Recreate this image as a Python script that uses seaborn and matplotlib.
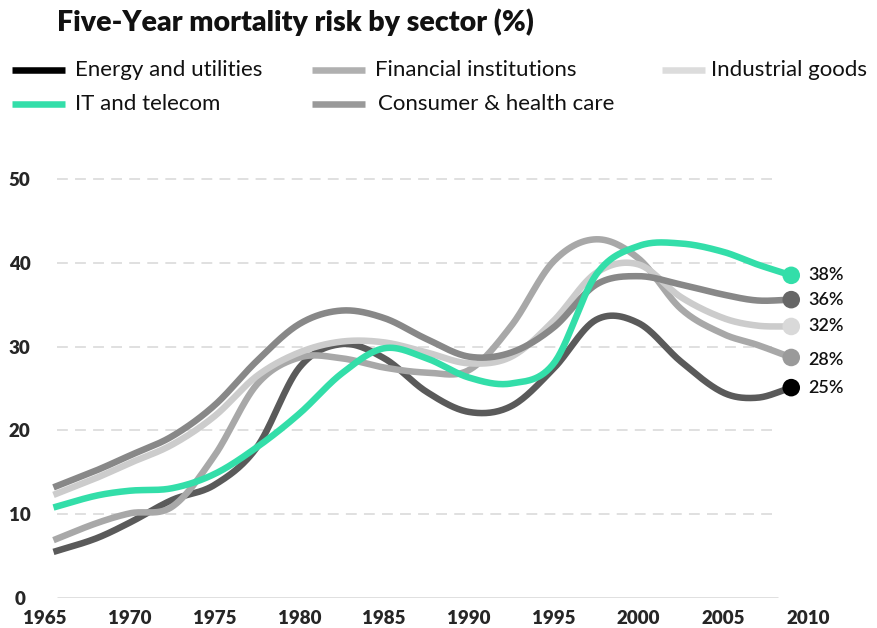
import numpy as np
import pandas as pd
import seaborn as sns
import matplotlib.pyplot as plt
from matplotlib.lines import Line2D

# values (%)
years = [1965.5, 1968, 1970, 1972.5, 1975, 1977.5, 1980, 1982.5, 1985, 1987.5,
         1990, 1992.5, 1995, 1997.5, 2000, 2002.5, 2005, 2007, 2009]
energy = [5.5, 7.1, 9.0, 11.7, 13.5, 18.0, 27.5, 30.3, 28.6, 24.6,
          22.2, 22.9, 27.4, 33.2, 32.8, 28.2, 24.5, 23.9, 25.1]
financial = [6.9, 8.9, 10.1, 10.9, 17.0, 25.5, 28.7, 28.6, 27.5, 26.9,
             27.2, 32.5, 40.2, 42.8, 40.5, 34.5, 31.5, 30.2, 28.7]
industrial = [12.3, 14.3, 16.1, 18.3, 21.7, 26.5, 29.3, 30.6, 30.5, 29.3,
              28.0, 28.8, 33.1, 38.8, 39.8, 35.9, 33.4, 32.5, 32.4]
it_telecom = [10.8, 12.2, 12.8, 13.1, 14.8, 18.0, 22.0, 26.8, 29.8, 28.6,
              26.3, 25.6, 28.0, 38.6, 42.0, 42.3, 41.3, 39.8, 38.5]
consumer = [13.2, 15.2, 17.0, 19.3, 23.0, 28.3, 32.7, 34.3, 33.4, 30.9,
            28.8, 29.3, 32.3, 37.4, 38.4, 37.4, 36.2, 35.5, 35.6]
end_labels = ['25%', '28%', '32%', '38%', '36%']

sectors = ['Energy and utilities', 'Financial institutions', 'Industrial goods',
           'IT and telecom', 'Consumer & health care']
series = [energy, financial, industrial, it_telecom, consumer]
line_colors = ['#5a5a5a', '#a8a8a8', '#cccccc', '#33dea9', '#888888']
dot_colors = ['#000000', '#9a9a9a', '#d9d9d9', '#33dea9', '#666666']
legend_colors = ['#000000', '#b0b0b0', '#dcdcdc', '#33dea9', '#999999']


def smooth(xs, ys, n=30):
    # cubic hermite (cardinal) curve through the points, like the original's curved lines
    xs = np.asarray(xs, float)
    ys = np.asarray(ys, float)
    m = np.zeros_like(ys)
    m[1:-1] = (ys[2:] - ys[:-2]) / (xs[2:] - xs[:-2])
    m[0] = (ys[1] - ys[0]) / (xs[1] - xs[0])
    m[-1] = (ys[-1] - ys[-2]) / (xs[-1] - xs[-2])
    ox, oy = [], []
    for i in range(len(xs) - 1):
        h = xs[i + 1] - xs[i]
        t = np.linspace(0, 1, n, endpoint=False)
        h00 = 2 * t**3 - 3 * t**2 + 1
        h10 = t**3 - 2 * t**2 + t
        h01 = -2 * t**3 + 3 * t**2
        h11 = t**3 - t**2
        ox.extend(xs[i] + t * h)
        oy.extend(h00 * ys[i] + h10 * h * m[i] + h01 * ys[i + 1] + h11 * h * m[i + 1])
    ox.append(xs[-1])
    oy.append(ys[-1])
    return ox, oy


rows = []
for name, vals in zip(sectors, series):
    sx, sy = smooth(years, vals)
    rows.append(pd.DataFrame({'year': sx, 'risk': sy, 'sector': name}))
df = pd.concat(rows, ignore_index=True)
ends = pd.DataFrame({'year': [years[-1]] * 5, 'risk': [s[-1] for s in series],
                     'sector': sectors})

sns.set_style('white')
plt.rcParams['font.family'] = ['Lato', 'DejaVu Sans']

fig = plt.figure(figsize=(8.77, 6.28), dpi=100)
ax = fig.add_axes([28.04 / 877, 30 / 628, 805.6 / 877, 435.8 / 628])

# grid
ax.hlines([10, 20, 30, 40, 50], 1965.7, 2008.2, colors='#dddddd', lw=1.3,
          linestyles=(0, (6, 4)), zorder=0)
ax.hlines([0], 1965.7, 2008.2, colors='#dddddd', lw=2, zorder=0)

order = [0, 1, 2, 4, 3]
for i in order:
    sns.lineplot(data=df[df.sector == sectors[i]], x='year', y='risk', sort=False,
                 estimator=None, color=line_colors[i], lw=4.7, ax=ax,
                 legend=False, clip_on=False, solid_capstyle='butt')

sns.scatterplot(data=ends, x='year', y='risk', hue='sector', palette=dict(zip(sectors, dot_colors)),
                s=160, linewidth=0, legend=False, ax=ax, clip_on=False, zorder=5)

label_y = {'25%': 25.1, '28%': 28.4, '32%': 32.4, '38%': 38.6, '36%': 35.6}
for lab in end_labels:
    ax.annotate(lab, (years[-1], label_y[lab]), xytext=(12, 0), textcoords='offset points',
                va='center', ha='left', fontsize=13, fontweight='semibold', color='#111111')

ax.set_xlim(1964, 2011.5)
ax.set_ylim(0, 52)
ax.set_xticks(range(1965, 2011, 5))
ax.set_yticks([0, 10, 20, 30, 40, 50])
ax.tick_params(axis='x', length=0, pad=9, labelsize=13.5)
ax.tick_params(axis='y', length=0, pad=6, labelsize=13.5)
for t in ax.get_xticklabels() + ax.get_yticklabels():
    t.set_fontweight('heavy')
for t in ax.get_yticklabels():
    t.set_ha('center')
ax.set_xlabel('')
ax.set_ylabel('')
sns.despine(ax=ax, left=True, bottom=True)

fig.text(57 / 877, 1 - 22 / 628, 'Five-Year mortality risk by sector (%)',
         fontsize=20.5, fontweight='heavy', va='center', ha='left', color='#111111')

# legend
leg_pos = [(12, 70), (312, 70), (662, 70), (12, 104), (312, 104)]
leg_text_x = [75, 375, 711, 75, 378]
for i, name in enumerate(sectors):
    x0, yy = leg_pos[i]
    length = 53 if i != 2 else 43
    fig.add_artist(Line2D([x0 / 877, (x0 + length) / 877], [1 - yy / 628] * 2,
                          color=legend_colors[i], lw=4.7, solid_capstyle='butt'))
    fig.text(leg_text_x[i] / 877, 1 - yy / 628, name, fontsize=16, va='center',
             ha='left', color='#111111')

fig.savefig('out.png', dpi=100)
